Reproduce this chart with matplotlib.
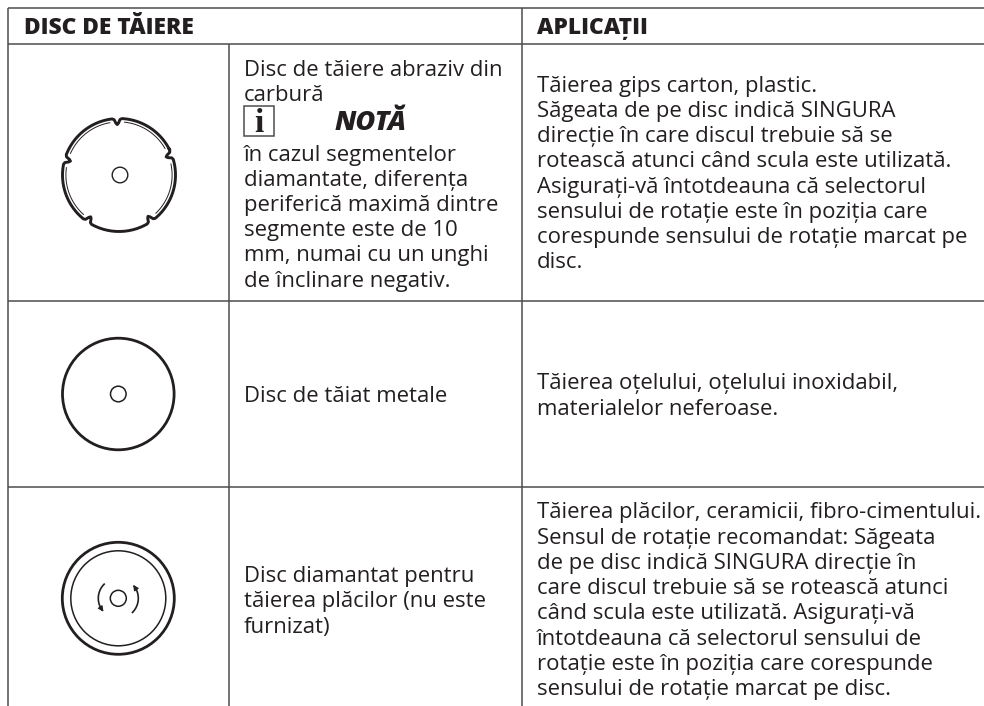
# Cutting disc table, drawn on a pixel-sized axes

import numpy as np
import matplotlib
matplotlib.use("Agg")
import matplotlib.pyplot as plt
from matplotlib.patches import Circle, Rectangle

INK = "#231f20"
RULE = "#4d4d4f"
FONT = ["Open Sans", "DejaVu Sans"]

headers = ["DISC DE TĂIERE", "APLICAȚII"]
disc_row1 = ["Disc de tăiere abraziv din", "carbură"]
note_label = "NOTĂ"
note_lines = [
    "în cazul segmentelor",
    "diamantate, diferența",
    "periferică maximă dintre",
    "segmente este de 10",
    "mm, numai cu un unghi",
    "de înclinare negativ.",
]
app_row1 = [
    "Tăierea gips carton, plastic.",
    "Săgeata de pe disc indică SINGURA",
    "direcție în care discul trebuie să se",
    "rotească atunci când scula este utilizată.",
    "Asigurați-vă întotdeauna că selectorul",
    "sensului de rotație este în poziția care",
    "corespunde sensului de rotație marcat pe",
    "disc.",
]
disc_row2 = ["Disc de tăiat metale"]
app_row2 = ["Tăierea oțelului, oțelului inoxidabil,", "materialelor neferoase."]
disc_row3 = ["Disc diamantat pentru", "tăierea plăcilor (nu este", "furnizat)"]
app_row3 = [
    "Tăierea plăcilor, ceramicii, fibro-cimentului.",
    "Sensul de rotație recomandat: Săgeata",
    "de pe disc indică SINGURA direcție în",
    "care discul trebuie să se rotească atunci",
    "când scula este utilizată. Asigurați-vă",
    "întotdeauna că selectorul sensului de",
    "rotație este în poziția care corespunde",
    "sensului de rotație marcat pe disc.",
]

# angles of the notches on the segmented disc, degrees
notch_angles = [21, 92, 164, 236, 305]


def text_block(ax, x, y, lines, size=15.95, step=25.25):
    for i, line in enumerate(lines):
        ax.text(x, y + i * step, line, fontsize=size, color=INK, family=FONT,
                va="baseline", ha="left")


def ring(ax, cx, cy, r, lw):
    ax.add_patch(Circle((cx, cy), r, fill=False, ec=INK, lw=lw))


def polar(cx, cy, r, deg):
    a = np.radians(deg)
    return cx + r * np.cos(a), cy - r * np.sin(a)


def segmented_disc(ax, cx, cy, r):
    # outline goes counter-clockwise, with a rounded dip at every notch
    dip_offset = [-5, -3, -1.5, 0, 1.5, 3, 5]
    dip_depth = [0, 1, 4.5, 6, 4.5, 1, 0]
    angles, radii = [], []
    n = len(notch_angles)
    for i in range(n):
        a0 = notch_angles[i]
        a1 = notch_angles[(i + 1) % n]
        if a1 < a0:
            a1 += 360
        t = np.linspace(a0 + 6, a1 - 6, 40)
        angles.extend(t)
        radii.extend(np.full(40, r))
        for off, depth in zip(dip_offset, dip_depth):
            angles.append(a1 + off)
            radii.append(r - depth)
    angles.append(angles[0])
    radii.append(radii[0])
    xs, ys = polar(cx, cy, np.array(radii), np.array(angles))
    ax.plot(xs, ys, color=INK, lw=2.1, solid_joinstyle="round")
    # thin inner edge on the worn segments
    for a0, a1 in [(30, 84), (100, 156), (172, 228), (314, 372)]:
        px, py = polar(cx, cy, r - 3.4, np.linspace(a0, a1, 40))
        ax.plot(px, py, color=INK, lw=0.7)


def rotation_arrow(ax, cx, cy, r, start, end):
    px, py = polar(cx, cy, r, np.linspace(start, end, 30))
    ax.plot(px[:-2], py[:-2], color=INK, lw=1.2)
    ax.annotate("", xy=(px[-1], py[-1]), xytext=(px[-6], py[-6]),
                arrowprops=dict(arrowstyle="-|>", color=INK, lw=0.8,
                                mutation_scale=8, shrinkA=0, shrinkB=0))


fig = plt.figure(figsize=(9.84, 7.06), dpi=100)
ax = fig.add_axes([0, 0, 1, 1])
ax.set_xlim(0, 984)
ax.set_ylim(706, 0)
ax.axis("off")

# table rules
for y in [7.8, 44.4, 300.6, 487.3]:
    ax.plot([8, 984], [y, y], color=RULE, lw=1.1, solid_capstyle="butt")
ax.plot([8, 8], [7.8, 706], color=RULE, lw=1.1, solid_capstyle="butt")
ax.plot([229, 229], [44.4, 706], color=RULE, lw=1.1, solid_capstyle="butt")
ax.plot([521.8, 521.8], [7.8, 706], color=RULE, lw=1.1, solid_capstyle="butt")

# header
ax.text(24, 34, headers[0], fontsize=16.4, fontweight=800, color=INK, family=FONT)
ax.text(537, 34, headers[1], fontsize=16.4, fontweight=800, color=INK, family=FONT)

# row 1
text_block(ax, 243.5, 76, disc_row1)
ax.add_patch(Rectangle((243.8, 105.5), 30, 30, fill=False, ec=RULE, lw=1.1))
ax.text(258.8, 132.5, "i", fontsize=24, fontweight="bold", color=INK,
        family="Liberation Serif", ha="center")
ax.text(335, 130, note_label, fontsize=19.5, fontweight=800, style="italic",
        color=INK, family=FONT)
text_block(ax, 243.5, 160.5, note_lines)
text_block(ax, 537, 91.7, app_row1)
segmented_disc(ax, 119, 175, 56.5)
ring(ax, 120, 175, 7.8, 1.0)

# row 2
text_block(ax, 243.5, 401.7, disc_row2)
text_block(ax, 537, 389.3, app_row2)
ring(ax, 118.3, 394, 55.8, 2.0)
ring(ax, 118.3, 394, 7.8, 1.1)

# row 3
text_block(ax, 243.5, 582, disc_row3)
text_block(ax, 537, 518.3, app_row3)
ring(ax, 118.3, 598.3, 56, 2.0)
ring(ax, 118.3, 598.3, 47.5, 1.1)
ring(ax, 118.3, 598.3, 8, 1.1)
rotation_arrow(ax, 118.3, 598.3, 20, 135, 222)
rotation_arrow(ax, 118.3, 598.3, 20, -45, 42)

fig.savefig("out.png", dpi=100)
